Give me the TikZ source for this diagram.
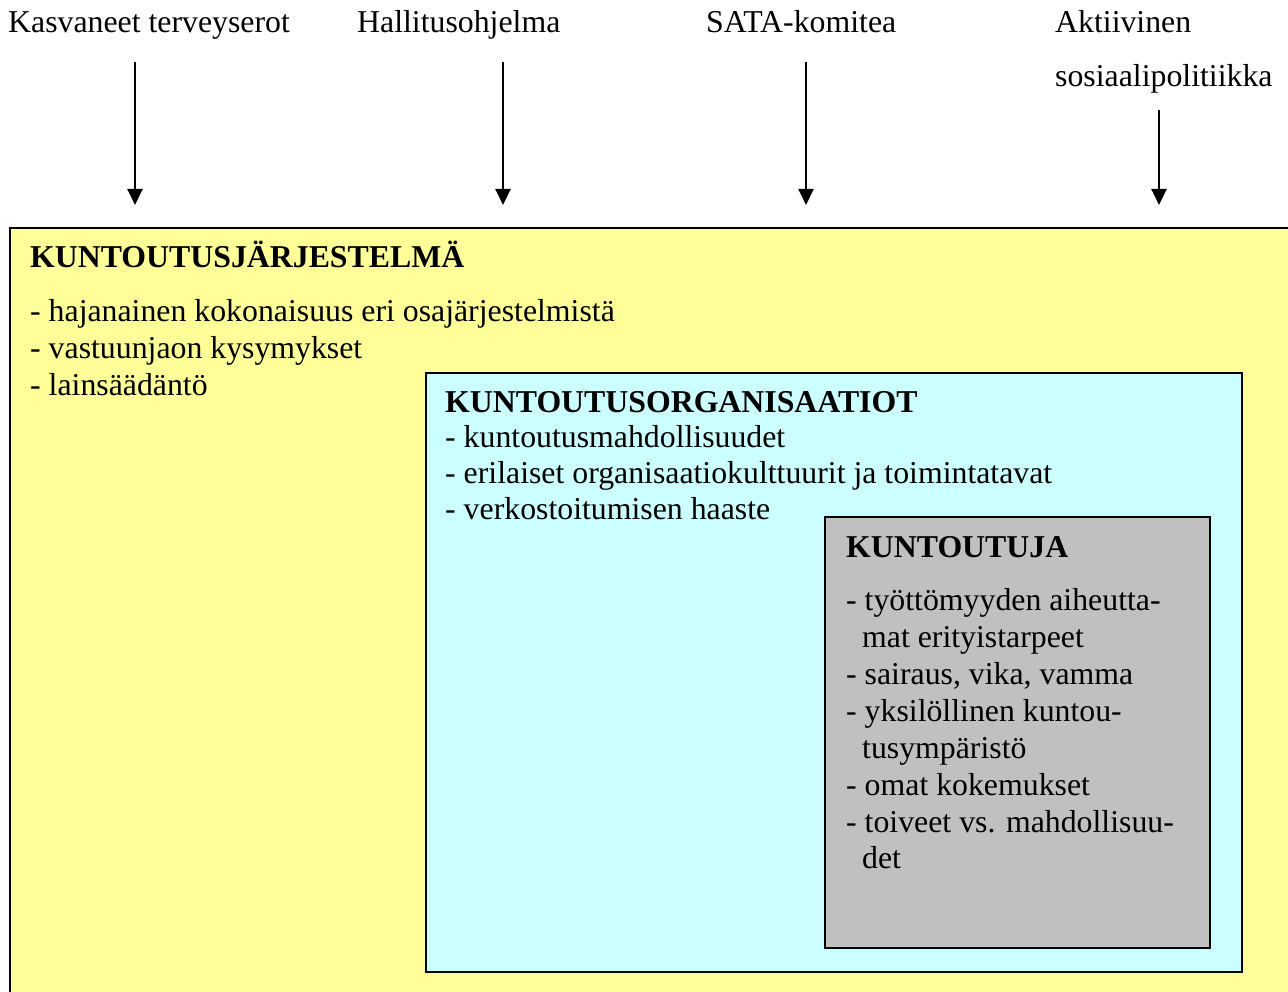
\documentclass[tikz,border=0pt]{standalone}
\usepackage{fontspec}
\setmainfont{Liberation Serif}
\usetikzlibrary{arrows.meta}
\definecolor{boxyellow}{HTML}{FFFF99}
\definecolor{boxcyan}{HTML}{CCFFFF}
\definecolor{boxgray}{HTML}{C0C0C0}
\tikzset{
  txt/.style={anchor=base west, inner sep=0pt, font=\fontsize{31.8}{36.8}\selectfont},
  head/.style={txt, font=\fontsize{31.8}{36.8}\selectfont\bfseries},
  panel/.style={draw=black, line width=2pt, anchor=north west, inner sep=0pt},
  feed/.style={line width=2pt, -{Triangle[length=16pt,width=15pt]}}
}
\begin{document}
\begin{tikzpicture}[x=1pt,y=-1pt]
\useasboundingbox (0,0) rectangle (1288,992);
\clip (0,0) rectangle (1288,992);
% top labels
\node[txt] (l1) at (8,33) {Kasvaneet terveyserot};
\node[txt] (l2) at (357,33) {Hallitusohjelma};
\node[txt] (l3) at (706,33) {SATA-komitea};
\node[txt] (l4a) at (1055,33) {Aktiivinen};
\node[txt] (l4b) at (1055,87) {sosiaalipolitiikka};
% boxes
\node[panel, fill=boxyellow, minimum width=1300pt, minimum height=800pt] (sys) at (9,227) {};
\node[panel, fill=boxcyan, minimum width=816pt, minimum height=599pt] (org) at (425,372) {};
\node[panel, fill=boxgray, minimum width=385pt, minimum height=431pt] (kt) at (824,516) {};
% arrows
\coordinate (a1s) at (135,62);  \coordinate (a1e) at (135,205);
\coordinate (a2s) at (503,62);  \coordinate (a2e) at (503,205);
\coordinate (a3s) at (806,62);  \coordinate (a3e) at (806,205);
\coordinate (a4s) at (1159,110); \coordinate (a4e) at (1159,205);
\draw[feed] (a1s) -- (a1e);
\draw[feed] (a2s) -- (a2e);
\draw[feed] (a3s) -- (a3e);
\draw[feed] (a4s) -- (a4e);
% system text
\node[head] (sh) at (30,268) {KUNTOUTUSJÄRJESTELMÄ};
\node[txt] (s1) at (30,322) {- hajanainen kokonaisuus eri osajärjestelmistä};
\node[txt] (s2) at (30,358.5) {- vastuunjaon kysymykset};
\node[txt] (s3) at (30,395) {- lainsäädäntö};
% organisation text
\node[head] (oh) at (445,412) {KUNTOUTUSORGANISAATIOT};
\node[txt] (o1) at (445,447) {- kuntoutusmahdollisuudet};
\node[txt] (o2) at (445,483) {- erilaiset organisaatiokulttuurit ja toimintatavat};
\node[txt] (o3) at (445,519) {- verkostoitumisen haaste};
% rehabilitee text
\node[head] (kh) at (846,557) {KUNTOUTUJA};
\node[txt] (k1) at (846,610) {- työttömyyden aiheutta-};
\node[txt] (k2) at (862,647) {mat erityistarpeet};
\node[txt] (k3) at (846,684) {- sairaus, vika, vamma};
\node[txt] (k4) at (846,721) {- yksilöllinen kuntou-};
\node[txt] (k5) at (862,758) {tusympäristö};
\node[txt] (k6) at (846,795) {- omat kokemukset};
\node[txt] (k7) at (846,832) {- toiveet vs. mahdollisuu-};
\node[txt] (k8) at (862,868) {det};
\end{tikzpicture}
\end{document}
